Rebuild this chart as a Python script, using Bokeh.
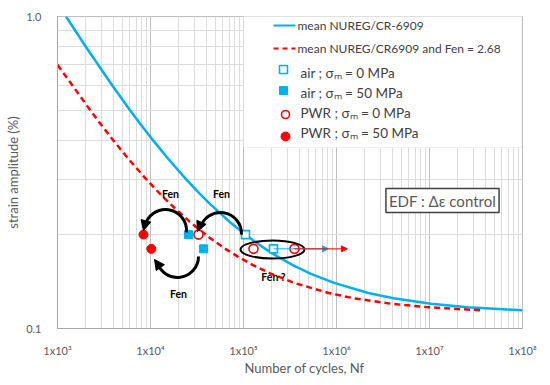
import math
from bokeh.plotting import figure
from bokeh.models import Label, Arrow, NormalHead, BoxAnnotation, FixedTicker
from bokeh.embed import file_html
from bokeh.resources import INLINE

# ---------------- data ----------------
mean_strain = [1.0, 0.8, 0.6, 0.5, 0.45, 0.4, 0.35, 0.3, 0.27, 0.25, 0.22, 0.2, 0.19, 0.18,
               0.17, 0.16, 0.15, 0.14, 0.13, 0.125, 0.12, 0.117, 0.115, 0.1145]
mean_cycles = [1235, 2016, 3899, 6056, 7892, 10730, 15480, 24340, 33990, 44090, 70560, 104500,
               131800, 171500, 232800, 334700, 524200, 942600, 2.2e6, 4.11e6, 1.04e7, 2.58e7,
               6.9e7, 1.0e8]
fen_strain = [0.70, 0.6, 0.5, 0.45, 0.4, 0.35, 0.3, 0.27, 0.25, 0.22, 0.2, 0.19, 0.18, 0.17,
              0.16, 0.15, 0.14, 0.13, 0.125, 0.12, 0.117, 0.115, 0.1145]
fen_cycles = [1000, 1455, 2260, 2945, 4004, 5776, 9082, 12680, 16450, 26330, 38990, 49180,
              63990, 86870, 124900, 195600, 351700, 8.2e5, 1.53e6, 3.9e6, 9.6e6, 2.56e7, 3.5e7]

air0_N = [1.05e5, 2.1e5]
air0_e = [0.20, 0.18]
air50_N = [2.56e4, 3.72e4]
air50_e = [0.20, 0.18]
pwr0_N = [3.28e4, 1.28e5, 3.53e5]
pwr0_e = [0.20, 0.18, 0.18]
pwr50_N = [8.4e3, 1.02e4]
pwr50_e = [0.20, 0.18]
air_runout_end = 8.2e5
pwr_runout_end = 1.31e6

x_ticks = [1e3, 1e4, 1e5, 1e6, 1e7, 1e8]
x_tick_labels = ["1x10³", "1x10⁴", "1x10⁵", "1x10⁶", "1x10⁷", "1x10⁸"]
y_ticks = [0.1, 1.0]
y_tick_labels = ["0.1", "1.0"]

BLUE = "#00b0f0"
RED = "#ff0000"
GRAY_TXT = "#595959"
FONT = "Lato"

FX0, FX1, FY0, FY1 = 57, 522, 16, 328
def dx(px):
    return 10 ** (3 + 5 * (px - FX0) / (FX1 - FX0))
def dy(py):
    return 10 ** (-1 + (FY1 - py) / (FY1 - FY0))

p = figure(frame_width=465, frame_height=312, x_axis_type="log", y_axis_type="log",
           x_range=(1e3, 1e8), y_range=(0.1, 1.0), output_backend="svg",
           toolbar_location=None, min_border_left=57, min_border_right=26,
           min_border_top=16, min_border_bottom=55)
p.background_fill_color = "white"
p.border_fill_color = "white"
p.outline_line_color = "#bfbfbf"

x_minor = [m * 10 ** k for k in range(3, 8) for m in range(2, 10)]
p.xaxis.ticker = FixedTicker(ticks=x_ticks, minor_ticks=x_minor)
p.xaxis.major_label_overrides = {t: l for t, l in zip(x_ticks, x_tick_labels)}
y_minor = [0.2, 0.3, 0.4, 0.5, 0.6, 0.7, 0.8, 0.9]
p.yaxis.ticker = FixedTicker(ticks=y_ticks, minor_ticks=y_minor)
p.yaxis.major_label_overrides = {t: l for t, l in zip(y_ticks, y_tick_labels)}

for ax in (p.xaxis, p.yaxis):
    ax.major_tick_line_color = None
    ax.minor_tick_line_color = None
    ax.major_tick_out = 0
    ax.axis_line_color = "#a6a6a6"
    ax.major_label_text_font = FONT
    ax.major_label_text_font_size = "11px"
    ax.major_label_text_color = GRAY_TXT
    ax.axis_label_text_font = FONT
    ax.axis_label_text_font_size = "13px"
    ax.axis_label_text_font_style = "normal"
    ax.axis_label_text_color = GRAY_TXT
p.xaxis.major_label_standoff = 11
p.yaxis.major_label_standoff = 12
p.yaxis.axis_label = "strain amplitude (%)"
p.yaxis.axis_label_standoff = 2
p.xaxis.axis_label = "\u2003\u2003\u2003Number of cycles, Nf"
p.xaxis.axis_label_standoff = 0

p.xgrid.grid_line_color = "#bfbfbf"
p.xgrid.minor_grid_line_color = "#dcdcdc"
p.ygrid.grid_line_color = "#bfbfbf"
p.ygrid.minor_grid_line_color = "#dcdcdc"

# curves
p.line(mean_cycles, mean_strain, line_color=BLUE, line_width=2.5)
p.line(fen_cycles, fen_strain, line_color=RED, line_width=2.5, line_dash="6 4")

# run-out arrows
p.add_layout(Arrow(x_start=air0_N[1], y_start=air0_e[1], x_end=air_runout_end, y_end=air0_e[1],
                   line_color=BLUE, line_width=1,
                   end=NormalHead(size=6, fill_color=BLUE, line_color=BLUE)))
p.add_layout(Arrow(x_start=pwr0_N[2], y_start=pwr0_e[2], x_end=pwr_runout_end, y_end=pwr0_e[2],
                   line_color=RED, line_width=1,
                   end=NormalHead(size=6, fill_color=RED, line_color=RED)))

# data points
p.scatter(air0_N, air0_e, marker="square", size=8, fill_color="white", line_color=BLUE, line_width=1.6)
p.scatter(air50_N, air50_e, marker="square", size=8, fill_color=BLUE, line_color=BLUE)
p.scatter(pwr0_N, pwr0_e, marker="circle", size=9, fill_color="white", line_color=RED, line_width=1.6)
p.scatter(pwr50_N, pwr50_e, marker="circle", size=9, fill_color=RED, line_color=RED)

p.ellipse(x=[dx(272)], y=[dy(249)], width=64, height=18, width_units="screen",
          height_units="screen", fill_color=None, line_color="black", line_width=2)

arcs = [((165, 230), -5, 168), ((177, 256), 195, 360), ((220, 233), -3, 166)]
for (cx, cy), a0, a1 in arcs:
    p.arc(x=[dx(cx)], y=[dy(cy)], radius=21, radius_units="screen",
          start_angle=math.radians(a0), end_angle=math.radians(a1),
          line_color="black", line_width=3)
heads = [((145, 222), (143, 230)), ((159, 266), (154, 259)), ((200, 224), (197, 231))]
for (x0, y0), (x1, y1) in heads:
    p.add_layout(Arrow(x_start=dx(x0), y_start=dy(y0), x_end=dx(x1), y_end=dy(y1),
                       line_color="black", line_width=2.5,
                       end=NormalHead(size=10, fill_color="black", line_color="black")))

def txt(x, y, s, size="10px", color="black", style="bold", align="center", **kw):
    p.add_layout(Label(x=dx(x), y=dy(y), text=s, text_font=FONT, text_font_size=size,
                       text_color=color, text_font_style=style, text_align=align,
                       text_baseline="middle", **kw))

txt(170, 193, "Fen", size="10.5px")
txt(221, 193, "Fen", size="10.5px")
txt(178, 293, "Fen", size="10.5px")
txt(273, 276, "Fen ?", size="10.5px")

p.add_layout(Label(x=dx(442), y=dy(200), text="EDF : Δε control", text_font=FONT,
                   text_font_size="15px", text_color=GRAY_TXT, text_align="center",
                   text_baseline="middle", background_fill_color="white",
                   border_line_color="#404040", border_line_width=1.5, padding=3))

p.add_layout(BoxAnnotation(left=dx(243), right=dx(521.5), top=dy(15), bottom=dy(147),
                           fill_color="white", fill_alpha=1, line_color="#d0d0d0",
                           line_width=1, level="underlay"))
p.line([dx(273), dx(295)], [dy(25), dy(25)], line_color=BLUE, line_width=2)
p.line([dx(273), dx(295)], [dy(48), dy(48)], line_color=RED, line_width=2, line_dash="5 4")
p.scatter([dx(283)], [dy(69)], marker="square", size=8, fill_color="white", line_color=BLUE, line_width=1.6)
p.scatter([dx(283)], [dy(90)], marker="square", size=8, fill_color=BLUE, line_color=BLUE)
p.scatter([dx(285)], [dy(114)], marker="circle", size=8, fill_color="white", line_color=RED, line_width=1.6)
p.scatter([dx(285)], [dy(136)], marker="circle", size=9, fill_color=RED, line_color=RED)
LEG = "#404040"
txt(297, 25, "mean NUREG/CR-6909", size="12px", color=LEG, style="normal", align="left")
txt(297, 48, "mean NUREG/CR6909 and Fen = 2.68", size="12px", color=LEG, style="normal", align="left")
txt(300, 72, "air  ; σₘ = 0 MPa", size="13.5px", color=LEG, style="normal", align="left")
txt(300, 92, "air  ; σₘ = 50 MPa", size="13.5px", color=LEG, style="normal", align="left")
txt(300, 112, "PWR ; σₘ = 0 MPa", size="13.5px", color=LEG, style="normal", align="left")
txt(300, 132, "PWR ; σₘ = 50 MPa", size="13.5px", color=LEG, style="normal", align="left")

open("out.html", "w").write(file_html(p, INLINE))
